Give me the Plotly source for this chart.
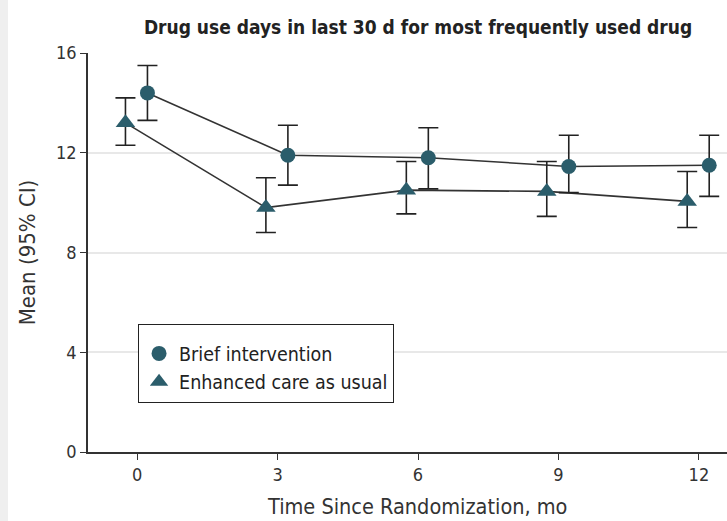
import plotly.graph_objects as go

months = [0, 3, 6, 9, 12]
brief_mean = [14.4, 11.9, 11.8, 11.45, 11.5]
brief_lo = [13.3, 10.7, 10.55, 10.4, 10.25]
brief_hi = [15.5, 13.1, 13.0, 12.7, 12.7]
ecau_mean = [13.2, 9.8, 10.5, 10.45, 10.05]
ecau_lo = [12.3, 8.8, 9.55, 9.45, 9.0]
ecau_hi = [14.2, 11.0, 11.65, 11.65, 11.25]
x_ticks = [0, 3, 6, 9, 12]
y_ticks = [0, 4, 8, 12, 16]

FONT = "DejaVu Sans Condensed, sans-serif"
MARK = "#2b5d6b"
LINE = "#333333"

bx = [m + 0.22 for m in months]
ex = [m - 0.25 for m in months]

fig = go.Figure()
for xs, ys in [(bx, brief_mean), (ex, ecau_mean)]:
    fig.add_trace(go.Scatter(x=xs, y=ys, mode="lines", line=dict(color=LINE, width=1.6),
                             showlegend=False, hoverinfo="skip"))

fig.add_trace(go.Scatter(
    x=bx, y=brief_mean, mode="markers", name="Brief intervention",
    marker=dict(symbol="circle", size=15, color=MARK),
    error_y=dict(type="data", symmetric=False,
                 array=[h - m for h, m in zip(brief_hi, brief_mean)],
                 arrayminus=[m - l for m, l in zip(brief_mean, brief_lo)],
                 color="#222222", thickness=1.6, width=10)))
fig.add_trace(go.Scatter(
    x=ex, y=ecau_mean, mode="markers", name="Enhanced care as usual",
    marker=dict(symbol="triangle-up", size=17, color=MARK),
    error_y=dict(type="data", symmetric=False,
                 array=[h - m for h, m in zip(ecau_hi, ecau_mean)],
                 arrayminus=[m - l for m, l in zip(ecau_mean, ecau_lo)],
                 color="#222222", thickness=1.6, width=10)))

fig.update_layout(
    width=727, height=521,
    margin=dict(l=88, r=0, t=53, b=69),
    paper_bgcolor="white", plot_bgcolor="white",
    font=dict(family=FONT, size=18, color="#333333"),
    title=dict(text="<b>Drug use days in last 30 d for most frequently used drug</b>",
               x=0.575, xanchor="center", y=0.948, yanchor="middle",
               font=dict(family=FONT, size=19, color="#222222")),
    showlegend=True,
    legend=dict(x=0.078, y=0.321, xanchor="left", yanchor="top",
                bordercolor="#222222", borderwidth=1.2, bgcolor="white",
                font=dict(family=FONT, size=19.5, color="#222222"),
                title=dict(text=" ", font=dict(size=7)),
                itemwidth=30),
    xaxis=dict(range=[-1.05, 12.6], tickvals=x_ticks, ticks="outside", ticklen=6,
               tickcolor=LINE, tickwidth=1.4, showline=True, linecolor=LINE, linewidth=1.6,
               showgrid=False, zeroline=False),
    yaxis=dict(range=[0, 16], tickvals=y_ticks, ticks="outside", ticklen=6,
               tickcolor=LINE, tickwidth=1.4, showline=True, linecolor=LINE, linewidth=1.6,
               showgrid=True, gridcolor="#e8e8e8", gridwidth=1.5, zeroline=False,
               title=dict(text="Mean (95% CI)", standoff=14,
                          font=dict(family=FONT, size=22, color="#333333"))),
    annotations=[dict(text="Time Since Randomization, mo", xref="paper", yref="paper",
                      x=0.515, y=-0.137, xanchor="center", yanchor="middle",
                      showarrow=False, font=dict(family=FONT, size=21.5, color="#333333"))],
    shapes=[dict(type="rect", xref="paper", yref="paper",
                 x0=-88 / 639, x1=-80 / 639, y0=-69 / 399, y1=1 + 53 / 399,
                 fillcolor="#efefef", line=dict(width=0), layer="below")],
)

fig.write_html("out.html", config={"displayModeBar": False},
               post_script="document.body.style.margin='0px';")
